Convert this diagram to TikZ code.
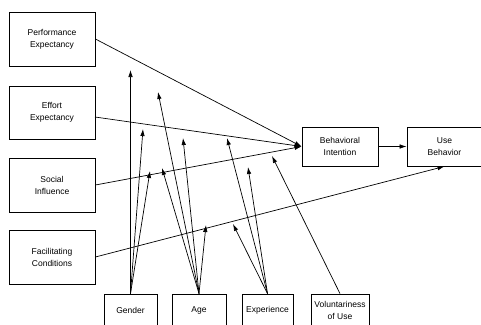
\documentclass[tikz,border=0pt]{standalone}
\usepackage{fontspec}
\setmainfont{Liberation Sans}
\usetikzlibrary{arrows.meta}
\begin{document}
\begin{tikzpicture}[x=1pt,y=-1pt,
  box/.style={draw,line width=0.8pt,inner sep=0pt,align=center,font=\fontsize{8.5}{12}\selectfont},
  conn/.style={line width=0.7pt,-{Latex[length=7pt,width=4.5pt]}}]
\useasboundingbox (0,0) rectangle (481,324);
\fill[white] (0,0) rectangle (481,324);
% predictor boxes
\node[box,minimum width=86pt,minimum height=54pt] (perf) at (52,39) {Performance\\Expectancy};
\node[box,minimum width=86pt,minimum height=53pt] (eff) at (52,112.5) {Effort\\Expectancy};
\node[box,minimum width=86pt,minimum height=54pt] (soc) at (52,185) {Social\\Influence};
\node[box,minimum width=86pt,minimum height=54pt] (fac) at (52,257) {Facilitating\\Conditions};
% outcome boxes
\node[box,minimum width=76pt,minimum height=39pt] (bi) at (340,146.5) {Behavioral\\Intention};
\node[box,minimum width=75pt,minimum height=39pt] (ub) at (444.5,146.5) {Use\\Behavior};
% moderators
\node[box,minimum width=53pt,minimum height=32pt] (gen) at (130.5,310) {Gender};
\node[box,minimum width=54pt,minimum height=32pt] (age) at (199,310) {Age};
\node[box,minimum width=51pt,minimum height=32pt] (exp) at (267.5,310) {Experience};
\node[box,minimum width=58pt,minimum height=32pt] (vol) at (340,310) {Voluntariness\\of Use};
% tip coordinates
\coordinate (g1) at (130.5,70);
\coordinate (g2) at (143,129);
\coordinate (g3) at (150,171);
\coordinate (a1) at (158,92);
\coordinate (a2) at (162,168);
\coordinate (a3) at (183,138);
\coordinate (a4) at (206,225);
\coordinate (e1) at (227,138);
\coordinate (e2) at (248,167);
\coordinate (e3) at (233,224);
\coordinate (v1) at (272,156);
\coordinate (effout) at (95,117);
% main paths
\draw[conn] (perf.east) -- (bi.west);
\draw[conn] (effout) -- (bi.west);
\draw[conn] (soc.east) -- (bi.west);
\draw[conn] (bi.east) -- (ub.west);
\draw[conn] (fac.east) -- (ub.south);
% moderator arrows
\draw[conn] (gen.north) -- (g1);
\draw[conn] (gen.north) -- (g2);
\draw[conn] (gen.north) -- (g3);
\draw[conn] (age.north) -- (a1);
\draw[conn] (age.north) -- (a2);
\draw[conn] (age.north) -- (a3);
\draw[conn] (age.north) -- (a4);
\draw[conn] (exp.north) -- (e1);
\draw[conn] (exp.north) -- (e2);
\draw[conn] (exp.north) -- (e3);
\draw[conn] (vol.north) -- (v1);
\end{tikzpicture}
\end{document}
